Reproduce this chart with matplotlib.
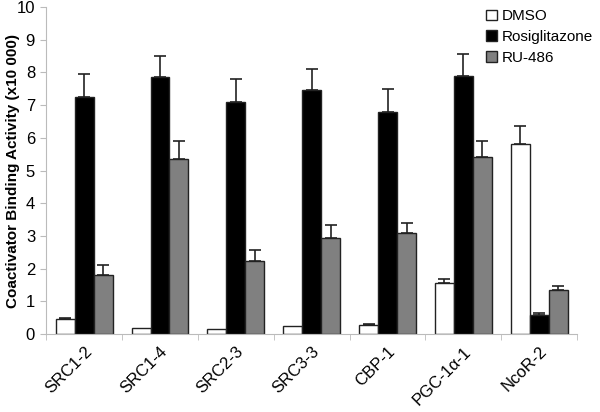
import matplotlib

matplotlib.use("Agg")

import matplotlib.pyplot as plt
import numpy as np

plt.rcParams["font.family"] = ["Liberation Sans", "DejaVu Sans"]

categories = ["SRC1-2", "SRC1-4", "SRC2-3", "SRC3-3", "CBP-1", "PGC-1α-1", "NcoR-2"]
series_names = ["DMSO", "Rosiglitazone", "RU-486"]

dmso = [0.45, 0.18, 0.15, 0.25, 0.27, 1.55, 5.8]
dmso_err = [0.05, 0.0, 0.0, 0.0, 0.03, 0.15, 0.55]
rosi = [7.25, 7.85, 7.1, 7.45, 6.8, 7.9, 0.6]
rosi_err = [0.7, 0.65, 0.7, 0.65, 0.7, 0.65, 0.05]
ru486 = [1.8, 5.35, 2.25, 2.95, 3.1, 5.4, 1.35]
ru486_err = [0.3, 0.55, 0.33, 0.4, 0.3, 0.5, 0.12]

colors = ["white", "black", "#808080"]

fig = plt.figure(figsize=(6.0, 4.12), dpi=100)
ax = fig.add_axes([0.077, 0.189, 0.885, 0.794])

x = np.arange(len(categories))
width = 0.25
values = [dmso, rosi, ru486]
errors = [dmso_err, rosi_err, ru486_err]

for i, (vals, errs) in enumerate(zip(values, errors)):
    pos = x + (i - 1) * width
    ax.bar(
        pos,
        vals,
        width,
        color=colors[i],
        edgecolor="#222222",
        linewidth=1.0,
        label=series_names[i],
        zorder=2,
    )
    # only draw bars that actually have an error value
    has_err = np.array(errs) > 0
    ax.errorbar(
        pos[has_err],
        np.array(vals)[has_err],
        yerr=[np.zeros(has_err.sum()), np.array(errs)[has_err]],
        fmt="none",
        ecolor="#222222",
        elinewidth=1.2,
        capsize=4,
        capthick=1.2,
        zorder=3,
    )

ax.set_xlim(-0.5, len(categories) - 0.5)
ax.set_ylim(0, 10)
ax.set_yticks(range(0, 11))
ax.set_xticks(x)
ax.set_xticklabels(categories, rotation=45, ha="right", rotation_mode="anchor", fontsize=12)
ax.set_xticks(np.arange(len(categories) + 1) - 0.5, minor=True)
ax.tick_params(axis="x", which="major", length=0, pad=7)
ax.tick_params(axis="x", which="minor", length=4, color="#bbbbbb")
ax.tick_params(axis="y", labelsize=12, color="#bbbbbb", length=4, pad=4)

for side in ["top", "right"]:
    ax.spines[side].set_visible(False)
for side in ["left", "bottom"]:
    ax.spines[side].set_color("#bbbbbb")

ax.set_ylabel("Coactivator Binding Activity (x10 000)", fontsize=11, fontweight="bold")
ax.yaxis.set_label_coords(-0.05, 0.5)

ax.legend(
    loc="upper right",
    bbox_to_anchor=(1.055, 1.035),
    frameon=False,
    fontsize=11,
    handlelength=0.7,
    handleheight=0.7,
    handletextpad=0.3,
    labelspacing=0.45,
)

plt.savefig("out.png", dpi=100)
plt.close()
